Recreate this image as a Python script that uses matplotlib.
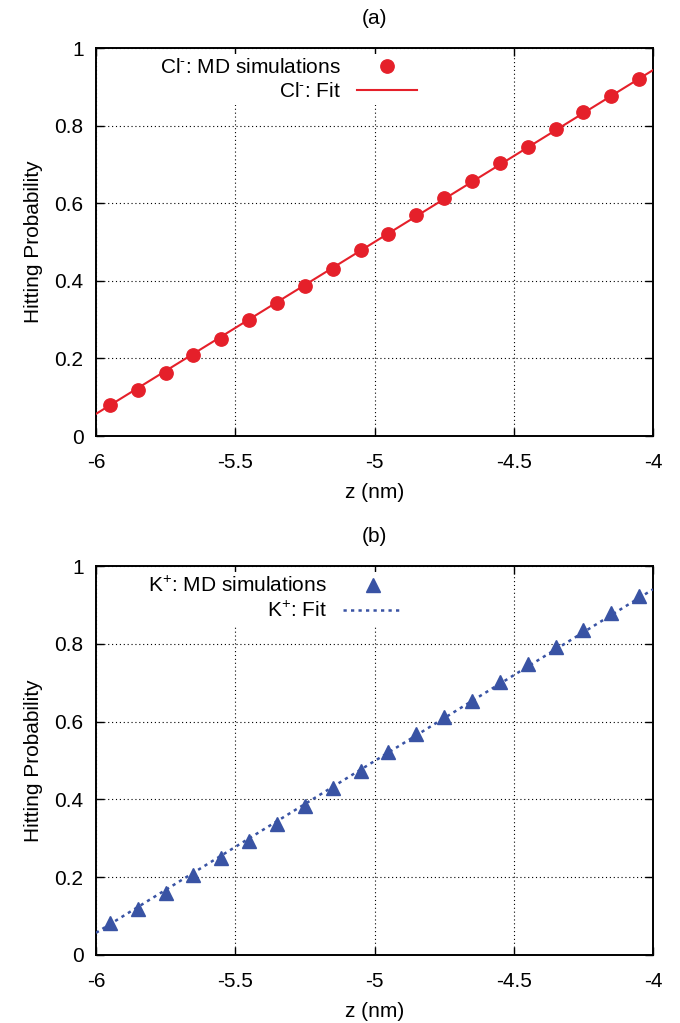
import matplotlib
matplotlib.use("Agg")
import matplotlib.pyplot as plt

plt.rcParams['font.family'] = ['Liberation Sans', 'DejaVu Sans']
plt.rcParams['mathtext.fontset'] = 'custom'
plt.rcParams['mathtext.rm'] = 'Liberation Sans'
plt.rcParams['mathtext.it'] = 'Liberation Sans:italic'
plt.rcParams['axes.unicode_minus'] = False

# ---- data ----
z = [-5.95, -5.85, -5.75, -5.65, -5.55, -5.45, -5.35, -5.25, -5.15, -5.05,
     -4.95, -4.85, -4.75, -4.65, -4.55, -4.45, -4.35, -4.25, -4.15, -4.05]
cl_prob = [0.080, 0.118, 0.163, 0.208, 0.250, 0.300, 0.343, 0.386, 0.430, 0.479,
           0.521, 0.569, 0.613, 0.657, 0.703, 0.746, 0.790, 0.834, 0.877, 0.920]
k_prob = [0.081, 0.119, 0.160, 0.205, 0.249, 0.293, 0.336, 0.383, 0.429, 0.474,
          0.522, 0.568, 0.612, 0.653, 0.702, 0.748, 0.791, 0.836, 0.880, 0.923]
fit_z = [-6.0, -4.0]
cl_fit = [0.057, 0.943]
k_fit = [0.057, 0.940]

xticks = [-6, -5.5, -5, -4.5, -4]
xticklabels = ['-6', '-5.5', '-5', '-4.5', '-4']
yticks = [0, 0.2, 0.4, 0.6, 0.8, 1]
yticklabels = ['0', '0.2', '0.4', '0.6', '0.8', '1']

RED = '#e5202a'
BLUE = '#3953a4'
FS = 15

fig = plt.figure(figsize=(6.8, 10.23), dpi=100)
W, H = 680, 1023
def axrect(l, t, r, b):
    return [l / W, 1 - b / H, (r - l) / W, (b - t) / H]

ax1 = fig.add_axes(axrect(96, 48, 653, 436))
ax2 = fig.add_axes(axrect(96, 566, 653, 955))

def style(ax, title):
    ax.set_xlim(-6, -4)
    ax.set_ylim(0, 1)
    ax.set_xticks(xticks)
    ax.set_xticklabels(xticklabels)
    ax.set_yticks(yticks)
    ax.set_yticklabels(yticklabels)
    ax.tick_params(direction='in', length=6, width=1.0, top=True, right=True,
                   labelsize=FS, colors='black')
    ax.tick_params(axis='x', pad=12)
    ax.tick_params(axis='y', pad=9)
    ax.grid(True, color='black', linestyle=(0, (1, 2.5)), linewidth=0.8)
    for s in ax.spines.values():
        s.set_linewidth(1.4)
    ax.set_xlabel('z (nm)', fontsize=FS, labelpad=8)
    ax.set_ylabel('Hitting Probability', fontsize=FS, labelpad=8)
    ax.set_title(title, fontsize=FS, pad=17)

style(ax1, '(a)')
style(ax2, '(b)')

ax1.plot(z, cl_prob, linestyle='none', marker='o', markersize=9.6, color=RED,
         label=r'Cl$^{\text{-}}$: MD simulations', zorder=4)
ax1.plot(fit_z, cl_fit, color=RED, linewidth=1.5, label=r'Cl$^{\text{-}}$: Fit', zorder=3)

ax2.plot(z, k_prob, linestyle='none', marker='^', markersize=9.4, color=BLUE,
         label=r'K$^{+}$: MD simulations', zorder=4)
ax2.plot(fit_z, k_fit, color=BLUE, linewidth=1.8, linestyle=(0, (1.3, 1.7)),
         label=r'K$^{+}$: Fit', zorder=3)

for ax, anchor_x in ((ax1, 0.584), (ax2, 0.559)):
    leg = ax.legend(loc='upper right', bbox_to_anchor=(anchor_x, 0.985),
                    markerfirst=False, fontsize=FS, frameon=True, fancybox=False,
                    handlelength=2.9, handletextpad=0.75, labelspacing=0.25,
                    borderpad=0.2, borderaxespad=0.0, numpoints=1)
    fr = leg.get_frame()
    fr.set_facecolor('white')
    fr.set_edgecolor('none')
    fr.set_alpha(1.0)

fig.savefig('out.png', dpi=100)
